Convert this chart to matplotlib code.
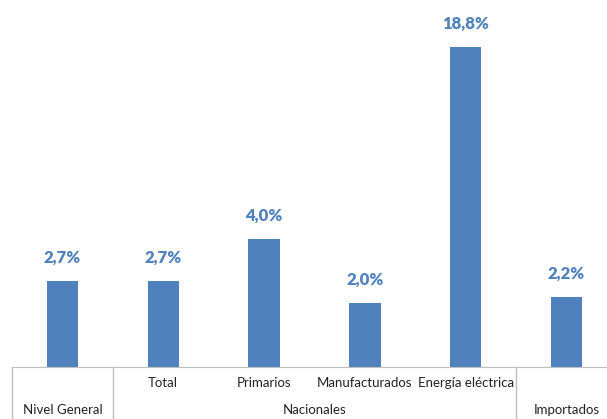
import matplotlib.pyplot as plt
from matplotlib.lines import Line2D

# Datos: variación por rubro
categories = ['Nivel General', 'Total', 'Primarios', 'Manufacturados', 'Energía eléctrica', 'Importados']
values = [2.7, 2.7, 4.0, 2.0, 18.8, 2.2]
labels = ['2,7%', '2,7%', '4,0%', '2,0%', '18,8%', '2,2%']
tick_labels = ['', 'Total', 'Primarios', 'Manufacturados', 'Energía eléctrica', '']
group_labels = ['Nivel General', 'Nacionales', 'Importados']
group_centers = [0, 2.5, 5]
separators = [-0.5, 0.5, 4.5, 5.5]

plt.rcParams['font.family'] = ['Lato', 'DejaVu Sans']

fig = plt.figure(figsize=(6.07, 4.19), dpi=100)
ax = fig.add_axes([12 / 607, 52 / 419, 605 / 607, 320 / 419])

bar_color = '#4F81BD'
x = list(range(len(categories)))
ax.bar(x, values, width=0.31, color=bar_color)
ax.set_xlim(-0.5, 5.5)
ax.set_ylim(0, 10)

# etiquetas de datos (la barra de energía queda recortada por la escala)
for xi, v, lab in zip(x, values, labels):
    y = min(v, 10)
    ax.annotate(lab, (xi, y), xytext=(0, 11), textcoords='offset points',
                ha='center', va='bottom', fontsize=12, fontweight='heavy',
                color='#4F81BD', annotation_clip=False)

for s in ['top', 'right', 'left']:
    ax.spines[s].set_visible(False)
ax.spines['bottom'].set_color('#BFBFBF')
ax.set_yticks([])
ax.set_xticks([])

tr = ax.get_xaxis_transform()
for xi, t in zip(x, tick_labels):
    ax.text(xi, -0.05, t, transform=tr, ha='center', va='center', fontsize=9.5, color='#222222')
for xc, t in zip(group_centers, group_labels):
    ax.text(xc, -0.135, t, transform=tr, ha='center', va='center', fontsize=9.5, color='#222222')

for s in separators:
    ax.add_line(Line2D([s, s], [0, -0.3], transform=tr, color='#BFBFBF', lw=1, clip_on=False))

fig.savefig('out.png', dpi=100)
